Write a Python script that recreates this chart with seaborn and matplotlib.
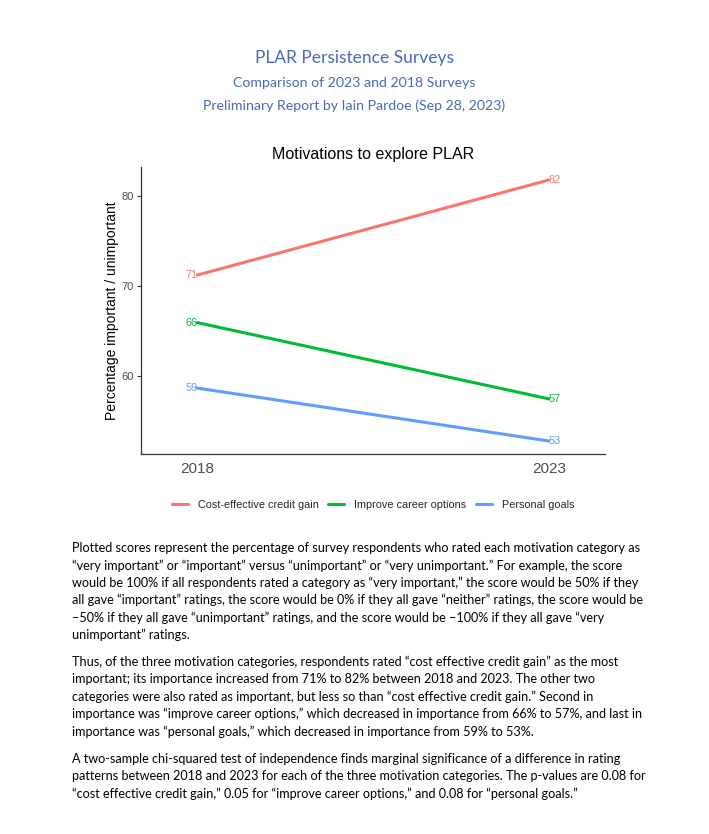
import pandas as pd
import matplotlib.pyplot as plt
import seaborn as sns

W, H = 709, 834

years = [2018, 2023]
motivations = ["Cost-effective credit gain", "Improve career options", "Personal goals"]
cost_effective = [71.2, 81.8]
career_options = [65.9, 57.4]
personal_goals = [58.6, 52.7]
colors = ["#F8766D", "#00BA38", "#619CFF"]

header = [
    "PLAR Persistence Surveys",
    "Comparison of 2023 and 2018 Surveys",
    "Preliminary Report by Iain Pardoe (Sep 28, 2023)",
]

para1 = [
    "Plotted scores represent the percentage of survey respondents who rated each motivation category as",
    "\u201cvery important\u201d or \u201cimportant\u201d versus \u201cunimportant\u201d or \u201cvery unimportant.\u201d For example, the score",
    "would be 100% if all respondents rated a category as \u201cvery important,\u201d the score would be 50% if they",
    "all gave \u201cimportant\u201d ratings, the score would be 0% if they all gave \u201cneither\u201d ratings, the score would be",
    "\u201350% if they all gave \u201cunimportant\u201d ratings, and the score would be \u2013100% if they all gave \u201cvery",
    "unimportant\u201d ratings.",
]
para2 = [
    "Thus, of the three motivation categories, respondents rated \u201ccost effective credit gain\u201d as the most",
    "important; its importance increased from 71% to 82% between 2018 and 2023. The other two",
    "categories were also rated as important, but less so than \u201ccost effective credit gain.\u201d Second in",
    "importance was \u201cimprove career options,\u201d which decreased in importance from 66% to 57%, and last in",
    "importance was \u201cpersonal goals,\u201d which decreased in importance from 59% to 53%.",
]
para3 = [
    "A two-sample chi-squared test of independence finds marginal significance of a difference in rating",
    "patterns between 2018 and 2023 for each of the three motivation categories. The p-values are 0.08 for",
    "\u201ccost effective credit gain,\u201d 0.05 for \u201cimprove career options,\u201d and 0.08 for \u201cpersonal goals.\u201d",
]

df = pd.DataFrame({
    "year": years * 3,
    "score": cost_effective + career_options + personal_goals,
    "motivation": [m for m in motivations for _ in years],
})

sns.set_style("white")
plt.rcParams["font.family"] = ["Liberation Sans", "DejaVu Sans"]

fig = plt.figure(figsize=(W / 100, H / 100), dpi=100)
ax = fig.add_axes([141 / W, 1 - 454 / H, (605 - 141) / W, (454 - 167) / H])

sns.lineplot(data=df, x="year", y="score", hue="motivation", hue_order=motivations,
             palette=colors, linewidth=2.2, ax=ax, legend=True)

# end-point labels
for m, c in zip(motivations, colors):
    sub = df[df["motivation"] == m]
    v0, v1 = sub["score"].iloc[0], sub["score"].iloc[1]
    ax.text(years[0], v0, f"{round(v0):.0f}", color=c, fontsize=7.8, ha="right", va="center")
    ax.text(years[1], v1, f"{round(v1):.0f}", color=c, fontsize=7.8, ha="left", va="center")

ax.set_xlim(2017.2, 2023.8)
ax.set_ylim(51.25, 83.25)
ax.set_xticks(years)
ax.set_yticks([60, 70, 80])
ax.tick_params(axis="x", length=0, labelsize=11, labelcolor="#4d4d4d", pad=6)
ax.tick_params(axis="y", length=3, width=0.8, color="#333333", labelsize=8, labelcolor="#4d4d4d", pad=2, left=True)
for s in ["top", "right"]:
    ax.spines[s].set_visible(False)
for s in ["left", "bottom"]:
    ax.spines[s].set_color("#333333")
    ax.spines[s].set_linewidth(0.9)
ax.set_xlabel("")
ax.set_ylabel("Percentage important / unimportant", fontsize=10, color="black", labelpad=2)
ax.set_title("Motivations to explore PLAR", fontsize=11.5, color="black", pad=6)

leg = ax.legend(loc="center", bbox_to_anchor=(0.5, (454 - 505) / (454 - 167)), ncol=3,
                frameon=False, fontsize=7.8, handlelength=1.5, columnspacing=0.9,
                handletextpad=0.9, title=None)

hcol = "#4a6ab2"
fig.text(0.5, 1 - 58 / H, header[0], ha="center", va="center", fontsize=12.5, color=hcol, family=["Lato", "DejaVu Sans"])
fig.text(0.5, 1 - 83 / H, header[1], ha="center", va="center", fontsize=10.2, color=hcol, family=["Lato", "DejaVu Sans"])
fig.text(0.5, 1 - 106 / H, header[2], ha="center", va="center", fontsize=10.2, color=hcol, family=["Lato", "DejaVu Sans"])

def block(lines, y0):
    for i, line in enumerate(lines):
        fig.text(72 / W, 1 - (y0 + i * 17.4) / H, line, ha="left", va="center",
                 fontsize=9.1, color="black", family=["Lato", "DejaVu Sans"])

block(para1, 548)
block(para2, 662)
block(para3, 759)

fig.savefig("out.png", dpi=100)
